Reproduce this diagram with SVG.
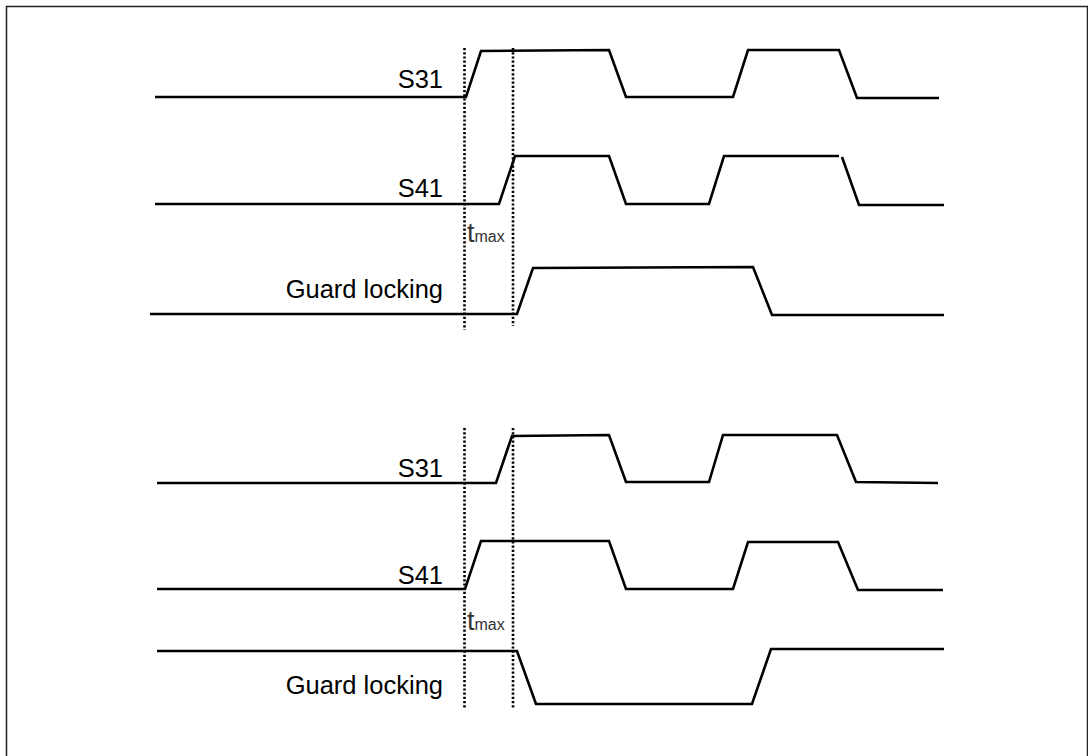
<svg xmlns="http://www.w3.org/2000/svg" width="1088" height="756" viewBox="0 0 1088 756">
<style>
.sig{fill:none;stroke:#000;stroke-width:2.6;stroke-linejoin:miter}
.dot{fill:none;stroke:#000;stroke-width:2.6;stroke-dasharray:2.2 2}
.lbl{font-family:"Liberation Sans",Arial,sans-serif;font-size:25.5px;fill:#000;text-anchor:end}
.t{font-family:"Liberation Sans",Arial,sans-serif;fill:#333}
</style>
<rect x="0" y="0" width="1088" height="756" fill="#fff"/>
<rect x="6.5" y="6.5" width="1081" height="760" fill="none" stroke="#222" stroke-width="1.5"/>
<g id="connectors">
<g id="dotted-top">
<line class="dot" x1="464.5" y1="48" x2="464.5" y2="330"/>
<line class="dot" x1="513" y1="48" x2="513" y2="326"/>
</g>
<g id="dotted-bottom">
<line class="dot" x1="464.5" y1="428" x2="464.5" y2="708"/>
<line class="dot" x1="513" y1="428" x2="513" y2="708"/>
</g>
</g>
<g id="top-s31">
<text class="lbl" x="443" y="88">S31</text>
<polyline class="sig" points="155,97 466,97 481,51 609,50 626,97 733,97 748,50 839,50 857,98 939,98"/>
</g>
<g id="top-s41">
<text class="lbl" x="443" y="197">S41</text>
<polyline class="sig" points="155,204 499,204 515,156 609,156 626,204 709,204 724,156 839,156"/>
<polyline class="sig" points="842,157 859,205 944,205"/>
</g>
<g id="top-tmax">
<text class="t" x="467" y="242" font-size="27">t<tspan font-size="16">max</tspan></text>
</g>
<g id="top-guard">
<text class="lbl" x="443" y="298">Guard locking</text>
<polyline class="sig" points="150,314 517,314 533,268 753,267 772,315 944,315"/>
</g>
<g id="bottom-s31">
<text class="lbl" x="443" y="477">S31</text>
<polyline class="sig" points="157,483 496,483 512,436 609,435 626,482 709,482 723,435 837,435 856,482 938,483"/>
</g>
<g id="bottom-s41">
<text class="lbl" x="443" y="584">S41</text>
<polyline class="sig" points="157,589 465,589 481,541 609,541 626,589 733,589 748,542 838,542 858,590 943,590"/>
</g>
<g id="bottom-tmax">
<text class="t" x="467" y="630" font-size="27">t<tspan font-size="16">max</tspan></text>
</g>
<g id="bottom-guard">
<text class="lbl" x="443" y="694">Guard locking</text>
<polyline class="sig" points="157,651 517,651 536,704 752,704 771,649 944,649"/>
</g>
</svg>
